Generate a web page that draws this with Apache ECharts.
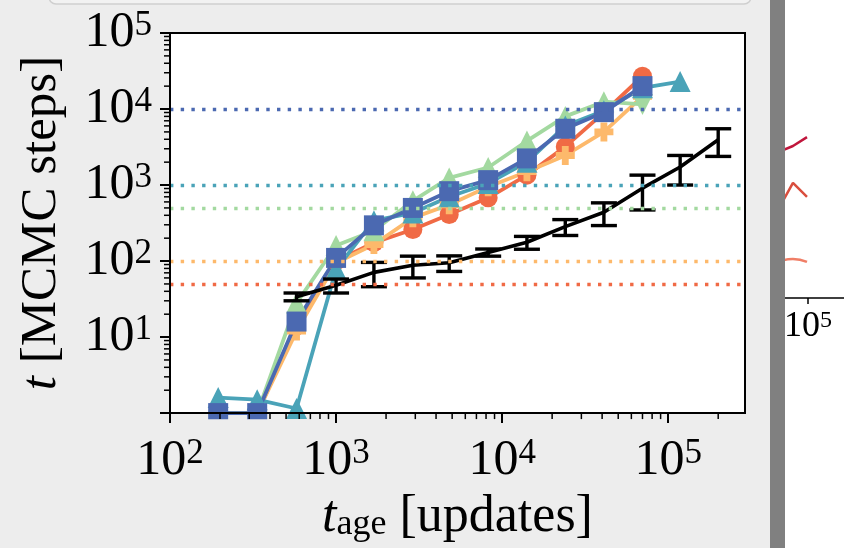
<!DOCTYPE html>
<html>
<head>
<meta charset="utf-8">
<script src="https://cdn.jsdelivr.net/npm/echarts@6.0.0/dist/echarts.min.js"></script>
<style>
  html, body { margin: 0; padding: 0; background: #ededed; }
  #chart { width: 844px; height: 548px; }
</style>
</head>
<body>
<div id="chart"></div>
<script>
// ---- data ----
const tAge = [195, 335, 578, 1000, 1690, 2900, 4800, 8240, 14100, 24000, 41000, 70000];
const tAgeTeal = [195, 335, 578, 1000, 1690, 2900, 4800, 8240, 14100, 24000, 41000, 70000, 118000];

const tRed    = [1, 1, 14, 100, 175, 260, 410, 680, 1350, 3200, 9000, 27000];
const tOrange = [1, 1, 12, 95, 165, 370, 550, 950, 1500, 2450, 5000, 14700];
const tGreen  = [1, 1, 28, 160, 250, 620, 1240, 1700, 3800, 8000, 12500, 11500];
const tTeal   = [1.6, 1.5, 1.15, 78, 340, 430, 700, 1050, 2000, 6000, 9500, 19000, 23000];
const tBlue   = [1, 1, 16, 110, 295, 500, 830, 1160, 2240, 5500, 9100, 20000];

const thresholds = [50, 100, 500, 1000, 10000];   // red, orange, green, teal, blue

const tAgeBlack = [578, 1000, 1690, 2900, 4800, 8240, 14100, 24000, 41000, 70000, 118000, 200000];
const tBlack    = [34, 48, 71, 88, 95, 130, 177, 284, 438, 910, 1725, 3940];
const errBlack  = [4, 10, 25, 28, 22, 14, 34, 67, 145, 440, 725, 1560];

const xTicks = [100, 1000, 10000, 100000];
const yTicks = [1, 10, 100, 1000, 10000, 100000];
const yLabels = [10, 100, 1000, 10000, 100000];

// neighbouring panel (only its left edge is in view)
const nbX = [50000, 74000, 98000];
const nbCrimson = [4.83, 5.1, 5.4];
const nbRed = [2.68, 3.86, 3.39];
const nbSalmon = [1.15, 1.31, 1.21];

// ---- styling ----
const colors = {
  red: '#f06a45', orange: '#fdb96b', green: '#a3d9a0', teal: '#4aa3b8', blue: '#4b69b1'
};
const thrColors = [colors.red, colors.orange, colors.green, colors.teal, colors.blue];
const SERIF = 'Liberation Serif';
const plusPath = 'path://M3.2,0H6.8V3.2H10V6.8H6.8V10H3.2V6.8H0V3.2H3.2Z';

function minorValues(lo, hi) {
  const out = [];
  for (let e = Math.floor(Math.log10(lo)); e <= Math.ceil(Math.log10(hi)); e++) {
    for (let m = 2; m <= 9; m++) {
      const v = m * Math.pow(10, e);
      if (v > lo && v < hi) out.push(v);
    }
  }
  return out;
}

const X_MIN = 100, X_MAX = 2.9e5, Y_MIN = 1, Y_MAX = 1e5;
const PLOT = { left: 170, right: 99, top: 33, bottom: 130 };
const MINOR_LEN = 6;

const powLabel = v => '{b|10}{s|' + Math.round(Math.log10(v)) + '}';
const powRich = {
  b: { fontFamily: SERIF, fontSize: 50, lineHeight: 50, color: '#000', verticalAlign: 'bottom' },
  s: { fontFamily: SERIF, fontSize: 35, lineHeight: 33, color: '#000', verticalAlign: 'top' }
};

function lineSeries(name, xs, ys, color, symbol, size, extra) {
  return Object.assign({
    name, type: 'line', xAxisIndex: 0, yAxisIndex: 0,
    data: xs.map((x, i) => [x, ys[i]]),
    symbol, symbolSize: size, showAllSymbol: true,
    lineStyle: { color, width: 3.8 },
    itemStyle: { color },
    z: 3, animation: false
  }, extra || {});
}

// short outward strokes at the log minor positions (2..9 x 10^k) of each axis
function minorTickSeries(dim) {
  const vals = dim === 'x' ? minorValues(X_MIN, X_MAX) : minorValues(Y_MIN, Y_MAX);
  return {
    name: 'minor-' + dim, type: 'custom', xAxisIndex: 0, yAxisIndex: 0, z: 60, silent: true,
    clip: false,
    data: vals.map(v => dim === 'x' ? [v, Y_MIN] : [X_MIN, v]),
    renderItem: function (params, api) {
      const p = api.coord([api.value(0), api.value(1)]);
      const shape = dim === 'x'
        ? { x1: p[0], y1: p[1], x2: p[0], y2: p[1] + MINOR_LEN }
        : { x1: p[0] - MINOR_LEN, y1: p[1], x2: p[0], y2: p[1] };
      return { type: 'line', shape, style: { stroke: '#000', lineWidth: 1.5 } };
    }
  };
}

const chart = echarts.init(document.getElementById('chart'), null, { renderer: 'canvas' });

const option = {
  backgroundColor: '#ededed',
  animation: false,
  grid: [
    Object.assign({ show: true, backgroundColor: '#fff', borderColor: '#000', borderWidth: 2 }, PLOT),
    { left: 785, top: 0, right: 0, height: 298, show: false }
  ],
  xAxis: [
    { type: 'log', gridIndex: 0, position: 'bottom', min: X_MIN, max: X_MAX, logBase: 10, z: 60,
      axisLine: { lineStyle: { color: '#000', width: 2 } },
      axisTick: { length: 10, lineStyle: { color: '#000', width: 2 }, customValues: xTicks },
      axisLabel: { customValues: xTicks, formatter: powLabel, rich: powRich, margin: 23 },
      splitLine: { show: false },
      name: '{i|t}{sub|age}{n| [updates]}', nameLocation: 'middle', nameGap: 77,
      nameTextStyle: { rich: {
        i: { fontFamily: SERIF, fontStyle: 'italic', fontSize: 52, lineHeight: 52, color: '#000', verticalAlign: 'bottom' },
        sub: { fontFamily: SERIF, fontSize: 36, lineHeight: 12, color: '#000', verticalAlign: 'bottom' },
        n: { fontFamily: SERIF, fontSize: 52, lineHeight: 52, color: '#000', verticalAlign: 'bottom' }
      } }
    },
    { type: 'log', gridIndex: 1, position: 'bottom', min: 63100, max: 205600, logBase: 10,
      axisLine: { lineStyle: { color: '#000', width: 1.5 } },
      axisTick: { length: 6, lineStyle: { color: '#000', width: 1.5 }, customValues: [100000] },
      axisLabel: { customValues: [100000], formatter: v => '{b|10}{s|' + Math.round(Math.log10(v)) + '}',
        margin: 11,
        rich: {
          b: { fontFamily: SERIF, fontSize: 36, lineHeight: 36, color: '#000', verticalAlign: 'bottom' },
          s: { fontFamily: SERIF, fontSize: 24, lineHeight: 22, color: '#000', verticalAlign: 'top' }
        } },
      splitLine: { show: false }
    }
  ],
  yAxis: [
    { type: 'log', gridIndex: 0, position: 'left', min: Y_MIN, max: Y_MAX, logBase: 10, z: 60,
      axisLine: { lineStyle: { color: '#000', width: 2 } },
      axisTick: { length: 10, lineStyle: { color: '#000', width: 2 }, customValues: yTicks },
      axisLabel: { customValues: yLabels, formatter: powLabel, rich: powRich, margin: 18 },
      splitLine: { show: false },
      name: '{i|t}{n| [MCMC steps]}', nameLocation: 'middle', nameGap: 103, nameRotate: 90,
      nameTextStyle: { rich: {
        i: { fontFamily: SERIF, fontStyle: 'italic', fontSize: 51, lineHeight: 51, color: '#000' },
        n: { fontFamily: SERIF, fontSize: 51, lineHeight: 51, color: '#000' }
      } }
    },
    { type: 'value', gridIndex: 1, min: 0, max: 10, show: false }
  ],
  graphic: [
    { type: 'rect', z: -5, shape: { x: 785, y: 0, width: 59, height: 548 }, style: { fill: '#ffffff' } },
    { type: 'rect', z: 100, shape: { x: 770, y: 0, width: 15, height: 548 }, style: { fill: '#808080' } },
    { type: 'rect', z: 100, shape: { x: 49, y: -20, width: 702, height: 24, r: 7 },
      style: { fill: '#f2f2f2', stroke: '#cfcfcf', lineWidth: 1.5 } },
    // hides the part of markers that falls below the bottom spine
    { type: 'rect', z: 50, shape: { x: 171, y: 419.2, width: 590, height: 16 }, style: { fill: '#ededed' } }
  ],
  series: [
    {
      name: 'thresholds', type: 'line', xAxisIndex: 0, yAxisIndex: 0, data: [], z: 1,
      markLine: {
        silent: true, symbol: 'none', label: { show: false }, animation: false,
        lineStyle: { width: 3.4, type: [3.4, 7.3], cap: 'butt' },
        data: thresholds.map((v, i) => ({
          yAxis: v,
          lineStyle: { color: thrColors[i], width: 3.4, type: [3.4, 7.3], cap: 'butt' }
        }))
      }
    },
    lineSeries('red', tAge, tRed, colors.red, 'circle', 19),
    lineSeries('orange', tAge, tOrange, colors.orange, plusPath, 19),
    Object.assign(lineSeries('green', tAge, tGreen, colors.green, 'triangle', 21), {
      data: tAge.map((x, i) => i === tAge.length - 1
        ? { value: [x, tGreen[i]], symbolRotate: 180 }
        : [x, tGreen[i]])
    }),
    lineSeries('teal', tAgeTeal, tTeal, colors.teal, 'triangle', 21),
    lineSeries('blue', tAge, tBlue, colors.blue, 'rect', 20),
    {
      name: 'mean', type: 'line', xAxisIndex: 0, yAxisIndex: 0, z: 4,
      data: tAgeBlack.map((x, i) => [x, tBlack[i]]),
      showSymbol: false, symbol: 'none',
      lineStyle: { color: '#000', width: 3.6 }
    },
    {
      name: 'err', type: 'custom', xAxisIndex: 0, yAxisIndex: 0, z: 4,
      data: tAgeBlack.map((x, i) => [x, tBlack[i] - errBlack[i], tBlack[i] + errBlack[i]]),
      encode: { x: 0, y: [1, 2] },
      renderItem: function (params, api) {
        const x = api.value(0);
        const top = api.coord([x, api.value(2)]);
        const bot = api.coord([x, api.value(1)]);
        const w = 13;
        const st = { stroke: '#000', lineWidth: 3.4 };
        return {
          type: 'group',
          children: [
            { type: 'line', shape: { x1: top[0], y1: top[1], x2: bot[0], y2: bot[1] }, style: st },
            { type: 'line', shape: { x1: top[0] - w, y1: top[1], x2: top[0] + w, y2: top[1] }, style: st },
            { type: 'line', shape: { x1: bot[0] - w, y1: bot[1], x2: bot[0] + w, y2: bot[1] }, style: st }
          ]
        };
      }
    },
    minorTickSeries('x'),
    minorTickSeries('y'),
    { name: 'nb1', type: 'line', xAxisIndex: 1, yAxisIndex: 1, showSymbol: false, symbol: 'none',
      data: nbX.map((x, i) => [x, nbCrimson[i]]), lineStyle: { color: '#c0163c', width: 2.5 } },
    { name: 'nb2', type: 'line', xAxisIndex: 1, yAxisIndex: 1, showSymbol: false, symbol: 'none',
      data: nbX.map((x, i) => [x, nbRed[i]]), lineStyle: { color: '#d94e3e', width: 2.5 } },
    { name: 'nb3', type: 'line', xAxisIndex: 1, yAxisIndex: 1, showSymbol: false, symbol: 'none', smooth: true,
      data: nbX.map((x, i) => [x, nbSalmon[i]]), lineStyle: { color: '#f07e66', width: 2.5 } }
  ]
};

chart.setOption(option);
</script>
</body>
</html>
